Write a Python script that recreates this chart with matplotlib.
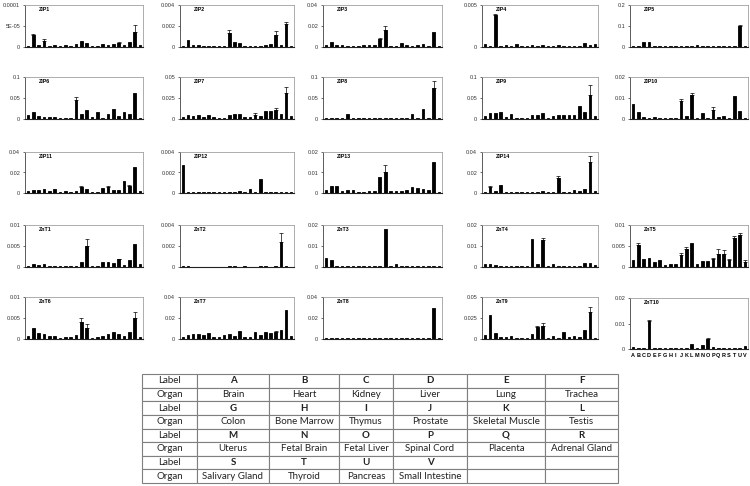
import numpy as np
import matplotlib.pyplot as plt

plt.rcParams['font.family'] = ['Liberation Sans', 'DejaVu Sans']

labels = list("ABCDEFGHIJKLMNOPQRSTUV")
organs = ["Brain", "Heart", "Kidney", "Liver", "Lung", "Trachea",
          "Colon", "Bone Marrow", "Thymus", "Prostate", "Skeletal Muscle", "Testis",
          "Uterus", "Fetal Brain", "Fetal Liver", "Spinal Cord", "Placenta", "Adrenal Gland",
          "Salivary Gland", "Thyroid", "Pancreas", "Small Intestine"]

# expression values, one list per gene (A..V), error = upper SD
zip1 = [0.3e-5, 2.8e-5, 0.5e-5, 1.4e-5, 0.3e-5, 0.4e-5, 0.3e-5, 0.4e-5, 0.3e-5, 0.7e-5, 1.5e-5,
        0.9e-5, 0.3e-5, 0.3e-5, 0.8e-5, 0.5e-5, 0.7e-5, 1.0e-5, 0.5e-5, 1.2e-5, 3.6e-5, 0.4e-5]
zip1_err = {1: 0.4e-5, 3: 0.4e-5, 17: 0.3e-5, 20: 1.6e-5}
zip2 = [0.0001, 0.0007, 0.0002, 0.0002, 0.0001, 0.0001, 0.0001, 0.0001, 0.0001, 0.0013, 0.0005,
        0.0004, 0.0001, 0.0001, 0.0001, 0.0001, 0.0002, 0.0003, 0.0011, 0.0002, 0.0022, 0.0001]
zip2_err = {9: 0.0003, 18: 0.0004, 20: 0.0002}
zip3 = [0.002, 0.005, 0.002, 0.002, 0.001, 0.001, 0.001, 0.0015, 0.0015, 0.0015, 0.008,
        0.016, 0.001, 0.001, 0.004, 0.002, 0.001, 0.002, 0.003, 0.001, 0.014, 0.0008]
zip3_err = {10: 0.001, 11: 0.004}
zip4 = [0.0004, 0.00015, 0.0038, 0.00015, 0.0002, 0.00015, 0.0003, 0.00015, 0.00015, 0.0002, 0.00015,
        0.0002, 0.00015, 0.00015, 0.0002, 0.00015, 0.00015, 0.00015, 0.00015, 0.0005, 0.0002, 0.0004]
zip4_err = {2: 0.0001}
zip5 = [0.005, 0.005, 0.025, 0.022, 0.005, 0.005, 0.005, 0.005, 0.005, 0.005, 0.005,
        0.005, 0.01, 0.005, 0.005, 0.005, 0.005, 0.005, 0.005, 0.005, 0.1, 0.007]
zip5_err = {20: 0.004}
zip6 = [0.01, 0.017, 0.008, 0.005, 0.004, 0.005, 0.003, 0.003, 0.003, 0.045, 0.013,
        0.021, 0.005, 0.016, 0.003, 0.011, 0.023, 0.007, 0.017, 0.013, 0.062, 0.003]
zip6_err = {9: 0.007}
zip7 = [0.002, 0.005, 0.004, 0.005, 0.002, 0.005, 0.002, 0.0015, 0.0015, 0.005, 0.006,
        0.006, 0.002, 0.002, 0.005, 0.003, 0.009, 0.010, 0.011, 0.006, 0.031, 0.003]
zip7_err = {14: 0.002, 18: 0.002, 20: 0.007}
zip8 = [0.003, 0.003, 0.003, 0.003, 0.012, 0.003, 0.003, 0.003, 0.003, 0.003, 0.003,
        0.003, 0.003, 0.003, 0.003, 0.003, 0.012, 0.003, 0.024, 0.003, 0.073, 0.003]
zip8_err = {20: 0.017}
zip9 = [0.008, 0.014, 0.014, 0.017, 0.005, 0.011, 0.003, 0.003, 0.003, 0.010, 0.010,
        0.014, 0.003, 0.007, 0.010, 0.010, 0.010, 0.010, 0.030, 0.017, 0.057, 0.006]
zip9_err = {20: 0.023}
zip10 = [0.007, 0.0035, 0.001, 0.0006, 0.001, 0.0006, 0.0006, 0.0006, 0.0006, 0.0085, 0.0015,
         0.0115, 0.0005, 0.003, 0.0005, 0.0045, 0.001, 0.0015, 0.0005, 0.011, 0.004, 0.0006]
zip10_err = {9: 0.001, 11: 0.001, 15: 0.001}
zip11 = [0.0015, 0.0025, 0.003, 0.0035, 0.0015, 0.0035, 0.001, 0.002, 0.001, 0.002, 0.006,
         0.0035, 0.001, 0.001, 0.005, 0.0055, 0.0025, 0.0025, 0.012, 0.007, 0.025, 0.0015]
zip11_err = {10: 0.001, 15: 0.001, 19: 0.001}
zip12 = [0.0027, 0.0001, 0.0001, 0.0001, 0.0001, 0.0001, 0.0001, 0.0001, 0.0001, 0.0001, 0.0001,
         0.00015, 0.0001, 0.0004, 0.0001, 0.0014, 0.0001, 0.0001, 0.0001, 0.0001, 0.0001, 0.0001]
zip12_err = {}
zip13 = [0.0015, 0.0032, 0.0035, 0.001, 0.0015, 0.0015, 0.0005, 0.0005, 0.0008, 0.001, 0.008,
         0.010, 0.0012, 0.0008, 0.001, 0.0015, 0.003, 0.0025, 0.002, 0.0015, 0.015, 0.0006]
zip13_err = {11: 0.0035}
zip14 = [0.0008, 0.006, 0.0015, 0.008, 0.0008, 0.0008, 0.0008, 0.0008, 0.0008, 0.001, 0.0008,
         0.0015, 0.0008, 0.0008, 0.0145, 0.0006, 0.0006, 0.003, 0.0015, 0.004, 0.030, 0.0015]
zip14_err = {1: 0.001, 14: 0.002, 20: 0.006}
znt1 = [0.0003, 0.0007, 0.0005, 0.0006, 0.0003, 0.0003, 0.0003, 0.0003, 0.0003, 0.0003, 0.0011,
        0.0051, 0.0003, 0.0003, 0.0013, 0.0013, 0.0009, 0.0018, 0.0004, 0.0017, 0.0055, 0.0006]
znt1_err = {11: 0.0016, 17: 0.0002}
znt2 = [0.00008, 0.00008, 0, 0, 0, 0, 0, 0, 0, 0.00008, 0.00008,
        0, 0.00008, 0, 0, 0.00012, 0.00008, 0, 0.00008, 0.0024, 0.00008, 0]
znt2_err = {19: 0.0008}
znt3 = [0.0041, 0.0034, 0.0005, 0.0005, 0.0005, 0.0005, 0.0005, 0.0005, 0.0005, 0.0005, 0.0005,
        0.018, 0.0005, 0.0016, 0.0005, 0.0005, 0.0005, 0.0007, 0.0005, 0.0005, 0.0005, 0.0005]
znt3_err = {}
znt4 = [0.0012, 0.0012, 0.001, 0.0006, 0.0006, 0.0006, 0.0006, 0.0006, 0.0006, 0.0135, 0.0015,
        0.013, 0.0005, 0.0013, 0.0006, 0.0006, 0.0006, 0.0006, 0.0006, 0.002, 0.002, 0.001]
znt4_err = {11: 0.0008}
znt5 = [0.0016, 0.0053, 0.002, 0.0022, 0.0013, 0.0016, 0.0005, 0.0007, 0.0007, 0.0028, 0.0042,
        0.0058, 0.0008, 0.0014, 0.0015, 0.0018, 0.003, 0.003, 0.0017, 0.0069, 0.0077, 0.0013]
znt5_err = {1: 0.0005, 9: 0.0005, 10: 0.0005, 15: 0.0003, 16: 0.0012, 17: 0.001,
            18: 0.0003, 19: 0.0006, 20: 0.0005, 21: 0.0003}
znt6 = [0.0008, 0.0027, 0.0014, 0.0013, 0.0006, 0.0006, 0.0003, 0.0005, 0.0004, 0.001, 0.004,
        0.0027, 0.0003, 0.0005, 0.0007, 0.0012, 0.0016, 0.0011, 0.0007, 0.0017, 0.005, 0.0005]
znt6_err = {10: 0.001, 11: 0.0008, 20: 0.0014}
znt7 = [0.0018, 0.0035, 0.0045, 0.005, 0.0035, 0.0055, 0.0015, 0.0015, 0.0035, 0.005, 0.003,
        0.0075, 0.0015, 0.0015, 0.0065, 0.0035, 0.0065, 0.006, 0.0065, 0.0085, 0.028, 0.0025]
znt7_err = {18: 0.001}
znt8 = [0.001, 0.001, 0.001, 0.001, 0.001, 0.001, 0.001, 0.001, 0.001, 0.001, 0.001,
        0.001, 0.001, 0.001, 0.001, 0.001, 0.001, 0.001, 0.001, 0.001, 0.03, 0.001]
znt8_err = {}
znt9 = [0.005, 0.029, 0.007, 0.002, 0.002, 0.003, 0.0015, 0.0015, 0.0015, 0.006, 0.014,
        0.016, 0.0015, 0.004, 0.0015, 0.008, 0.002, 0.003, 0.002, 0.011, 0.032, 0.0015]
znt9_err = {10: 0.002, 11: 0.003, 20: 0.006}
znt10 = [0.0008, 0.0004, 0.0004, 0.011, 0.0002, 0.0004, 0.0005, 0.0004, 0.0004, 0.0004, 0.0004,
         0.002, 0.0004, 0.0015, 0.004, 0.0008, 0.0004, 0.0003, 0.0002, 0.0004, 0.0004, 0.0013]
znt10_err = {3: 0.0005, 14: 0.0005}

names = ["ZIP1", "ZIP2", "ZIP3", "ZIP4", "ZIP5", "ZIP6", "ZIP7", "ZIP8", "ZIP9", "ZIP10",
         "ZIP11", "ZIP12", "ZIP13", "ZIP14",
         "ZnT1", "ZnT2", "ZnT3", "ZnT4", "ZnT5", "ZnT6", "ZnT7", "ZnT8", "ZnT9", "ZnT10"]
data = [zip1, zip2, zip3, zip4, zip5, zip6, zip7, zip8, zip9, zip10, zip11, zip12, zip13, zip14,
        znt1, znt2, znt3, znt4, znt5, znt6, znt7, znt8, znt9, znt10]
errs = [zip1_err, zip2_err, zip3_err, zip4_err, zip5_err, zip6_err, zip7_err, zip8_err, zip9_err,
        zip10_err, zip11_err, zip12_err, zip13_err, zip14_err, znt1_err, znt2_err, znt3_err,
        znt4_err, znt5_err, znt6_err, znt7_err, znt8_err, znt9_err, znt10_err]
yticklabels = [["0", "5E-05", "0.0001"], ["0", "0.002", "0.004"], ["0", "0.02", "0.04"],
               ["0", "0.005"], ["0", "0.1", "0.2"], ["0", "0.05", "0.1"], ["0", "0.025", "0.05"],
               ["0", "0.05", "0.1"], ["0", "0.05", "0.1"], ["0", "0.01", "0.02"],
               ["0", "0.02", "0.04"], ["0", "0.002", "0.004"], ["0", "0.01", "0.02"],
               ["0", "0.02", "0.04"], ["0", "0.005", "0.01"], ["0", "0.002", "0.004"],
               ["0", "0.01", "0.02"], ["0", "0.01", "0.02"], ["0", "0.005", "0.01"],
               ["0", "0.005", "0.01"], ["0", "0.02", "0.04"], ["0", "0.02", "0.04"],
               ["0", "0.025", "0.05"], ["0", "0.01", "0.02"]]

W, H = 750, 486
fig = plt.figure(figsize=(7.5, 4.86), dpi=100)

cols = [(25, 143), (180, 294), (323, 442), (482, 598), (630, 748)]
rows = [(5, 47), (77, 119), (152, 193), (225, 267), (297, 339)]
slots = [(r, c) for r in range(3) for c in range(5)][:14] + [(r, c) for r in (3, 4) for c in range(5)]

x = np.arange(len(labels))
for k, name in enumerate(names):
    r, c = slots[k]
    x0, x1 = cols[c]
    y0, y1 = rows[r]
    if name == "ZnT10":
        y0, y1 = 298, 349
    ax = fig.add_axes([x0 / W, 1 - y1 / H, (x1 - x0) / W, (y1 - y0) / H])
    vals = np.array(data[k])
    shown = vals > 0
    ax.bar(x[shown], vals[shown], width=0.5, color="black", edgecolor="black",
           linewidth=0.6, zorder=3)
    e = errs[k]
    if e:
        idx = list(e.keys())
        ax.errorbar(x[idx], vals[idx],
                    yerr=[np.zeros(len(idx)), [e[i] for i in idx]],
                    fmt="none", ecolor="black", elinewidth=0.5, capsize=1.3, capthick=0.5, zorder=4)
    ticks = [float(t) for t in yticklabels[k]]
    ax.set_ylim(0, ticks[-1])
    ax.set_yticks(ticks)
    ax.set_yticklabels(yticklabels[k])
    ax.set_xlim(-0.55, 21.55)
    ax.tick_params(axis="y", labelsize=4, length=1.5, width=0.5, pad=2, colors="#333333")
    if name == "ZnT10":
        ax.set_xticks(x)
        ax.set_xticklabels(labels, fontsize=4, fontweight="bold")
        ax.tick_params(axis="x", length=0, pad=3)
    else:
        ax.set_xticks([])
    for s in ("top", "right"):
        ax.spines[s].set_color("#a0a0a0")
        ax.spines[s].set_linewidth(0.6)
    ax.spines["left"].set_color("#404040")
    ax.spines["left"].set_linewidth(0.6)
    ax.spines["bottom"].set_color("#222222")
    ax.spines["bottom"].set_linewidth(0.8)
    ax.text(0.12, 0.96, name, transform=ax.transAxes, fontsize=3.8, fontweight="bold",
            va="top", ha="left")

# legend table
cell_text = []
for i in range(0, len(labels), 6):
    lab = labels[i:i + 6]
    org = organs[i:i + 6]
    cell_text.append(["Label"] + lab + [""] * (6 - len(lab)))
    cell_text.append(["Organ"] + org + [""] * (6 - len(org)))

col_w = np.array([55, 72, 70, 54, 74, 78, 73], dtype=float)
tx0, tx1, ty0, ty1 = 142, 618, 374, 483
tax = fig.add_axes([tx0 / W, 1 - ty1 / H, (tx1 - tx0) / W, (ty1 - ty0) / H])
tax.axis("off")
tbl = tax.table(cellText=cell_text, colWidths=list(col_w / col_w.sum()), cellLoc="center",
                bbox=[0, 0, 1, 1])
tbl.auto_set_font_size(False)
for (i, j), cell in tbl.get_celld().items():
    cell.set_edgecolor("#7f7f7f")
    cell.set_linewidth(0.8)
    t = cell.get_text()
    t.set_fontsize(7)
    t.set_fontfamily(["Lato", "DejaVu Sans"])
    t.set_color("#222222")
    if i % 2 == 0 and j > 0:
        t.set_fontweight("bold")

fig.savefig("out.png", dpi=100)
